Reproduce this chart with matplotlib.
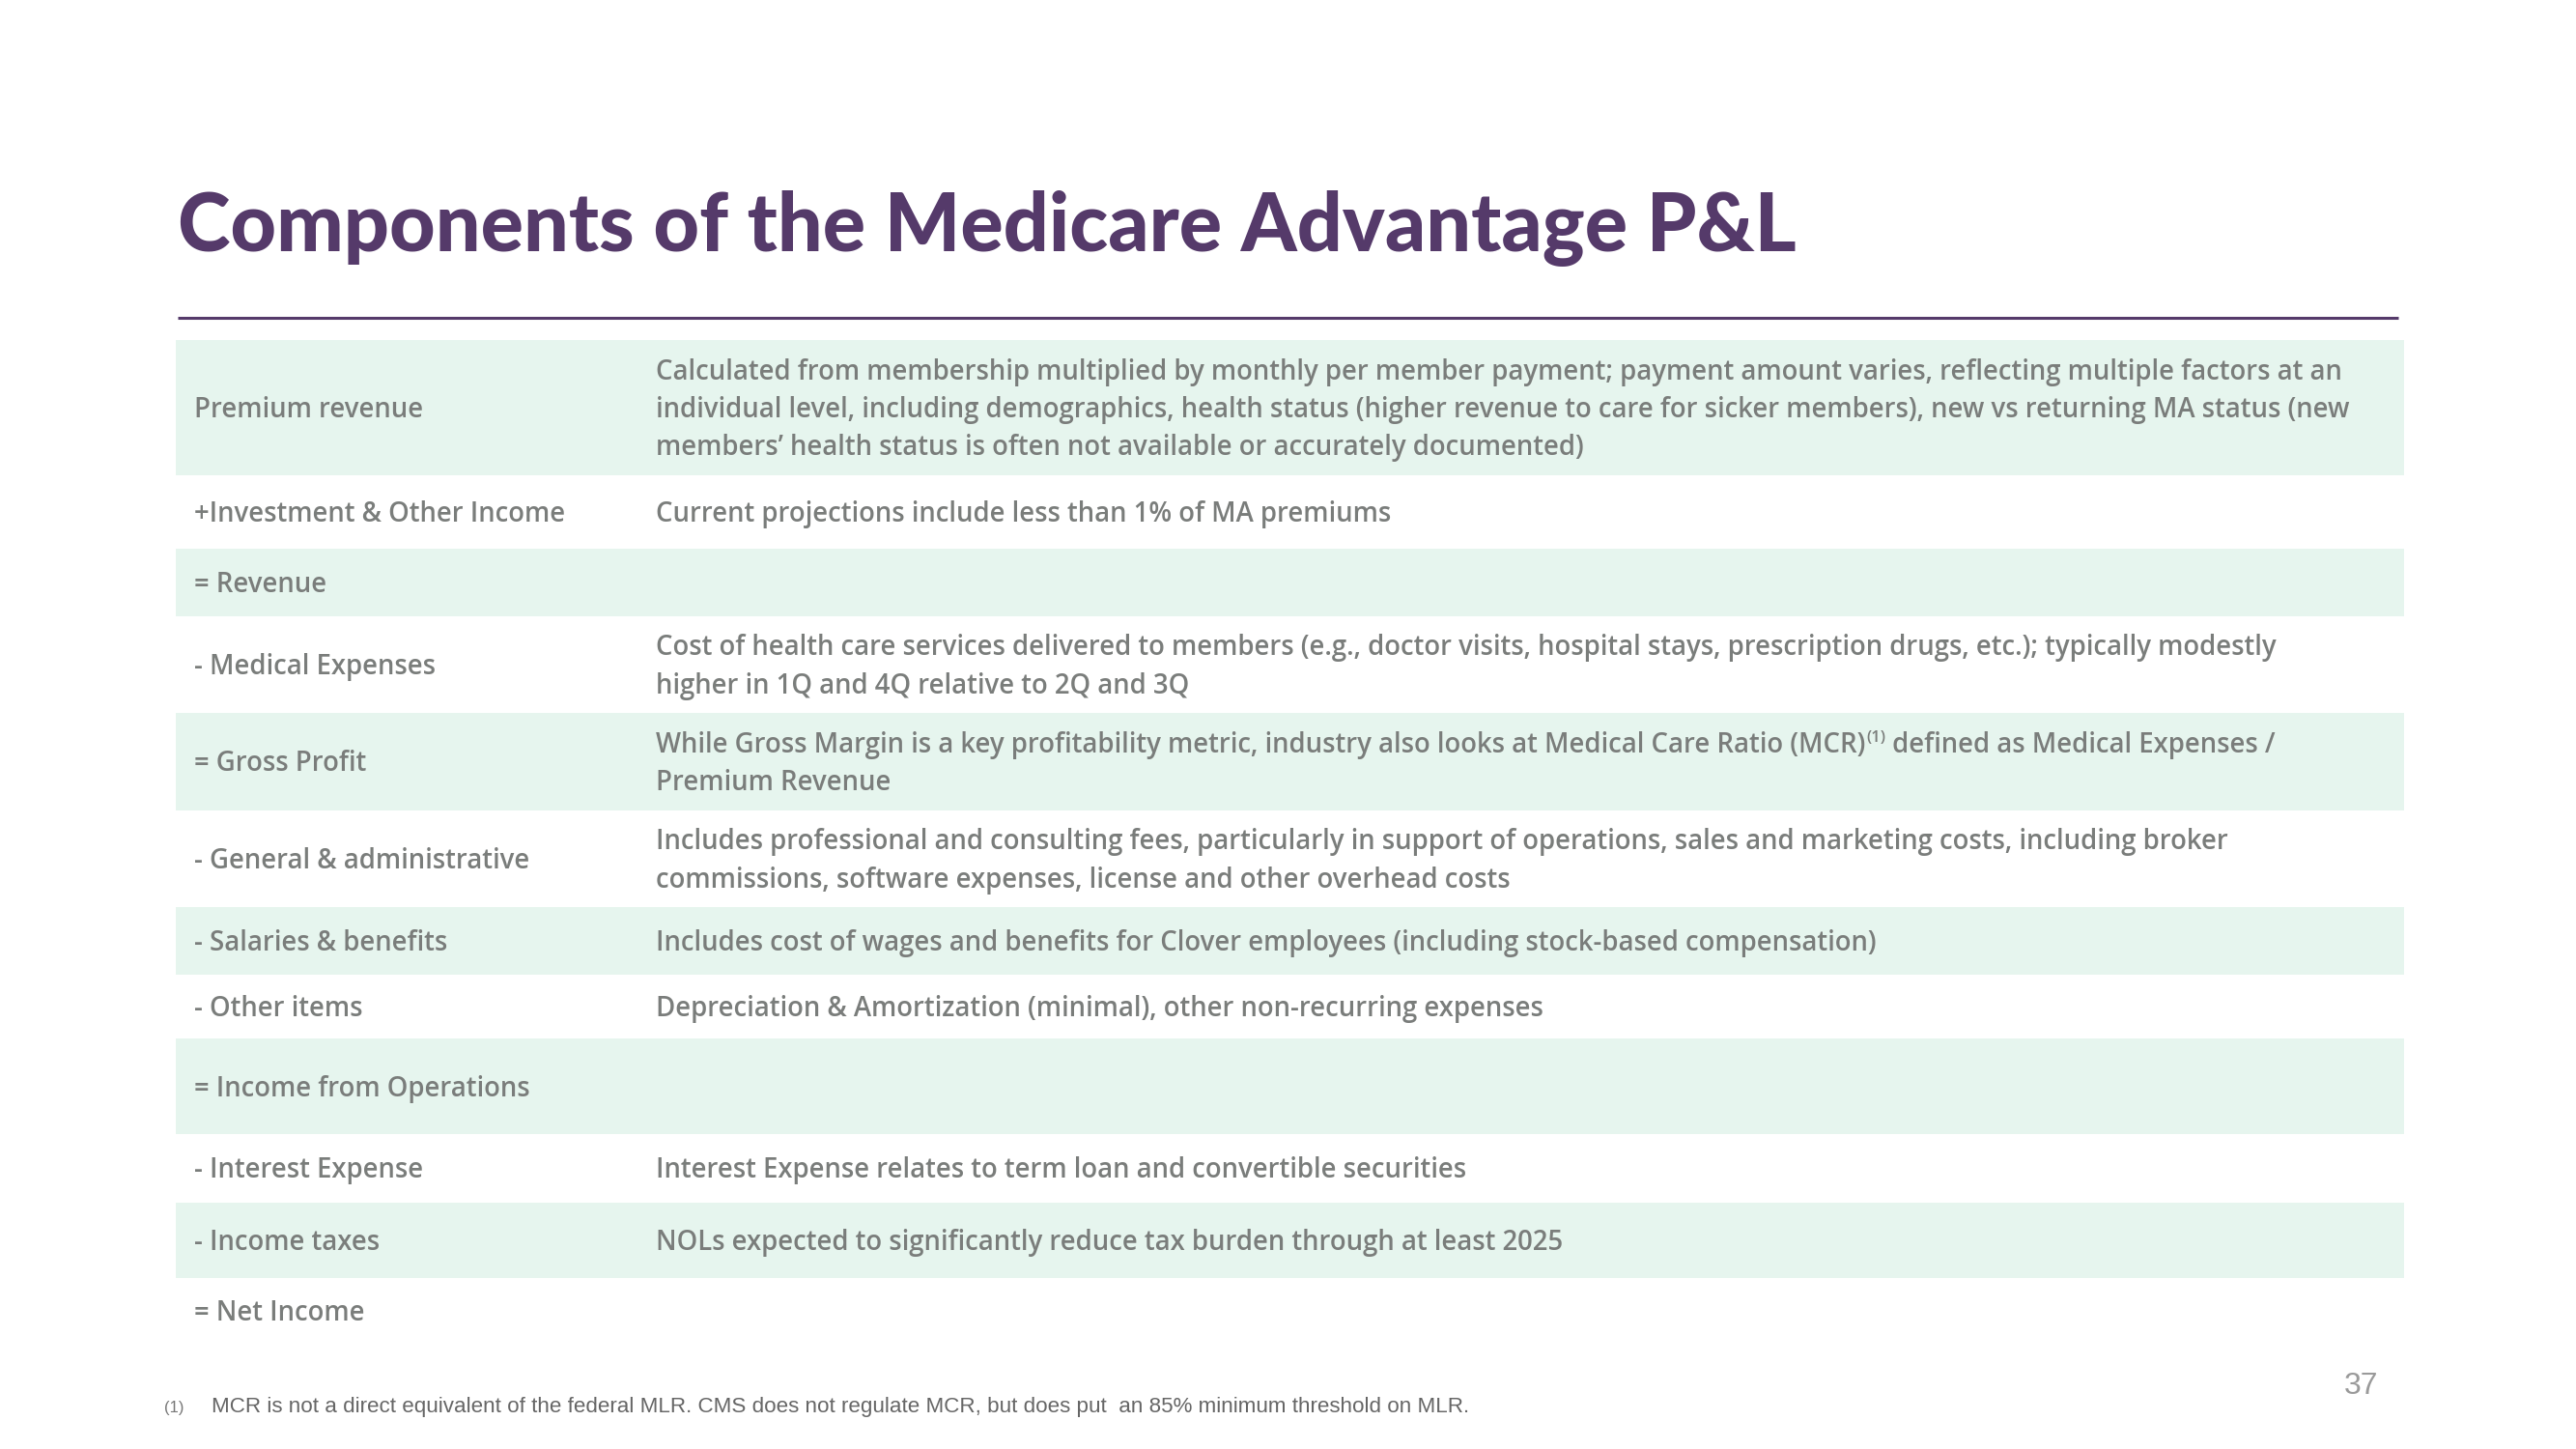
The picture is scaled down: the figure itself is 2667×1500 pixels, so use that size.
import matplotlib.pyplot as plt
from matplotlib.patches import Rectangle

# Contenido de la tabla
title = "Components of the Medicare Advantage P&L"

items = [
    "Premium revenue",
    "+Investment & Other Income",
    "= Revenue",
    "- Medical Expenses",
    "= Gross Profit",
    "- General & administrative",
    "- Salaries & benefits",
    "- Other items",
    "= Income from Operations",
    "- Interest Expense",
    "- Income taxes",
    "= Net Income",
]

descriptions = [
    ["Calculated from membership multiplied by monthly per member payment; payment amount varies, reflecting multiple factors at an",
     "individual level, including demographics, health status (higher revenue to care for sicker members), new vs returning MA status (new",
     "members\u2019 health status is often not available or accurately documented)"],
    ["Current projections include less than 1% of MA premiums"],
    [],
    ["Cost of health care services delivered to members (e.g., doctor visits, hospital stays, prescription drugs, etc.); typically modestly",
     "higher in 1Q and 4Q relative to 2Q and 3Q"],
    ["While Gross Margin is a key profitability metric, industry also looks at Medical Care Ratio (MCR)^(1) defined as Medical Expenses /",
     "Premium Revenue"],
    ["Includes professional and consulting fees, particularly in support of operations, sales and marketing costs, including broker",
     "commissions, software expenses, license and other overhead costs"],
    ["Includes cost of wages and benefits for Clover employees (including stock-based compensation)"],
    ["Depreciation & Amortization (minimal), other non-recurring expenses"],
    [],
    ["Interest Expense relates to term loan and convertible securities"],
    ["NOLs expected to significantly reduce tax burden through at least 2025"],
    [],
]

footnote_mark = "(1)"
footnote = "MCR is not a direct equivalent of the federal MLR. CMS does not regulate MCR, but does put  an 85% minimum threshold on MLR."
page_number = "37"

# Bordes de filas (en píxeles)
row_edges = [352, 492, 568, 638, 738, 839, 939, 1009, 1075, 1174, 1245, 1323, 1391]

W, H = 2667, 1500
PURPLE = "#553a6a"
GREEN = "#e6f5ee"
GRAY = "#7a7d7b"

fig = plt.figure(figsize=(W / 100, H / 100), dpi=100)
ax = fig.add_axes([0, 0, 1, 1])
ax.set_xlim(0, W)
ax.set_ylim(H, 0)
ax.axis("off")

# Titulo y linea
ax.text(184, 260, title, fontsize=59.5, fontweight="black", family="Lato",
        color=PURPLE, va="baseline", ha="left")
ax.plot([184, 2483], [329, 329], color=PURPLE, lw=2.2, solid_capstyle="butt")

renderer = fig.canvas.get_renderer()
body = dict(fontsize=19.8, fontweight="semibold", family="Open Sans", color=GRAY, va="baseline")
line_gap = 39.5

for i, (item, desc) in enumerate(zip(items, descriptions)):
    top, bottom = row_edges[i], row_edges[i + 1]
    if i % 2 == 0:
        ax.add_patch(Rectangle((182, top), 2489 - 182, bottom - top, color=GREEN, lw=0, zorder=0))
    yc = (top + bottom) / 2
    ax.text(201, yc + 10, item, ha="left", **body)
    n = len(desc)
    for j, line in enumerate(desc):
        yb = yc + 10 + (j - (n - 1) / 2) * line_gap
        if "^(1)" in line:
            left, right = line.split("^(1)")
            t = ax.text(679, yb, left, ha="left", **body)
            x1 = t.get_window_extent(renderer).x1
            sup = dict(body, fontsize=12)
            t2 = ax.text(x1 + 1, yb - 11, "(1)", ha="left", **sup)
            x2 = t2.get_window_extent(renderer).x1
            ax.text(x2, yb, right, ha="left", **body)
        else:
            ax.text(679, yb, line, ha="left", **body)

# Nota al pie y numero de pagina
ax.text(170, 1462, footnote_mark, fontsize=12, family="Liberation Sans", color="#777777", va="baseline")
ax.text(219, 1462, footnote, fontsize=16.1, family="Liberation Sans", color="#666666", va="baseline")
ax.text(2462, 1443, page_number, fontsize=23, family="Liberation Sans", color="#9a9a9a",
        va="baseline", ha="right")

fig.savefig("out.png", dpi=100)
